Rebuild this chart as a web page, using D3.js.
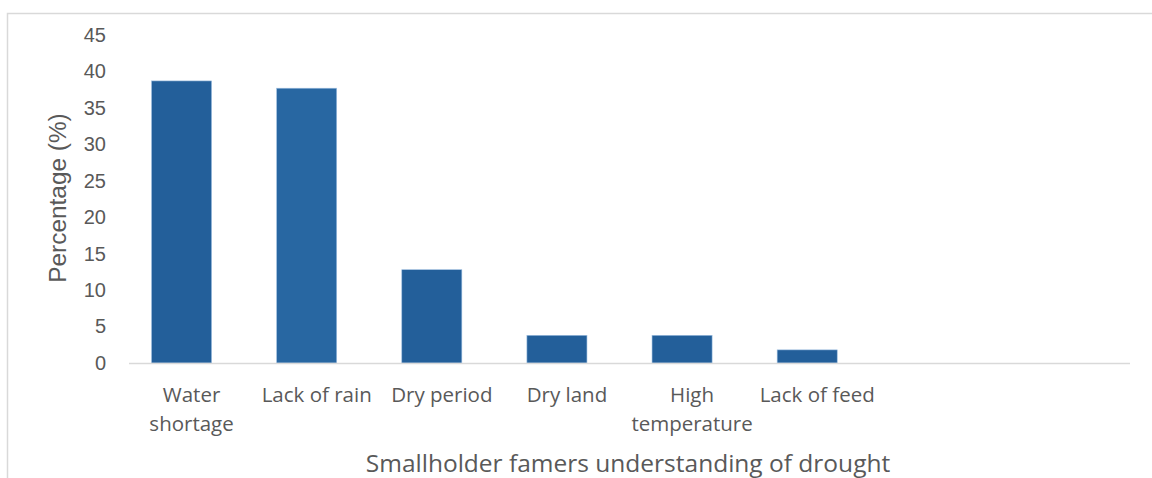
<!DOCTYPE html>
<html>
<head>
<meta charset="utf-8">
<script src="https://cdn.jsdelivr.net/npm/d3@7"></script>
<style>
    html, body { margin: 0; padding: 0; background: #ffffff; }
    svg { display: block; }
</style>
</head>
<body>
<svg id="chart"></svg>
<script>
// 数据
const categories = ["Water\nshortage", "Lack of rain", "Dry period", "Dry land", "High\ntemperature", "Lack of feed", "", " "];
const percentages = [38.7, 37.7, 12.8, 3.8, 3.8, 1.8, null, null];
const barColors = ["#235f9a", "#2867a2", "#235f9a", "#235f9a", "#235f9a", "#235f9a", "#235f9a", "#235f9a"];
const yTicks = [0, 5, 10, 15, 20, 25, 30, 35, 40, 45];
const yTitle = "Percentage (%)";
const xTitle = "Smallholder famers understanding of drought";

const width = 1152, height = 478;
const textColor = "#595959";
const lineColor = "#d9d9d9";

const svg = d3.select("#chart")
    .attr("width", width)
    .attr("height", height);

// 外框
svg.append("rect")
    .attr("x", 7.5)
    .attr("y", 13.5)
    .attr("width", width + 10)
    .attr("height", height + 10)
    .attr("fill", "none")
    .attr("stroke", lineColor)
    .attr("stroke-width", 1.5);

// 比例尺
const x = d3.scaleBand()
    .domain(categories)
    .range([129, 1130]);

const y = d3.scaleLinear()
    .domain([0, 45])
    .range([363, 35]);

const barWidth = x.bandwidth() * 0.48;
// 原图柱子比标签略微偏左
const barShift = -10;

// 柱子
svg.append("g")
    .selectAll("rect")
    .data(categories.map((c, i) => ({ c, v: percentages[i], color: barColors[i] })).filter(d => d.v != null))
    .enter()
    .append("rect")
    .attr("x", d => x(d.c) + (x.bandwidth() - barWidth) / 2 + barShift)
    .attr("y", d => y(d.v))
    .attr("width", barWidth)
    .attr("height", d => y(0) - y(d.v))
    .attr("fill", d => d.color)
    .attr("stroke", "#9fbfe0")
    .attr("stroke-width", 0.6);

// x轴线
svg.append("line")
    .attr("x1", x.range()[0])
    .attr("x2", x.range()[1])
    .attr("y1", y(0) + 0.5)
    .attr("y2", y(0) + 0.5)
    .attr("stroke", lineColor)
    .attr("stroke-width", 1.5);

// y轴刻度
const yAxis = svg.append("g")
    .attr("transform", "translate(106,0)")
    .call(d3.axisLeft(y).tickValues(yTicks).tickSize(0).tickPadding(0));
yAxis.select(".domain").remove();
yAxis.selectAll("text")
    .attr("fill", textColor)
    .style("font-family", "'Liberation Sans', Arial, sans-serif")
    .style("font-size", "20px");

// x轴标签
const xAxis = svg.append("g")
    .attr("transform", `translate(0,${y(0)})`)
    .call(d3.axisBottom(x).tickSize(0).tickFormat(""));
xAxis.select(".domain").remove();
xAxis.selectAll(".tick").each(function (d) {
    const lines = d.trim() === "" ? [] : d.split("\n");
    const t = d3.select(this).append("text")
        .attr("fill", textColor)
        .attr("text-anchor", "middle")
        .style("font-family", "'Open Sans', sans-serif")
        .style("font-size", "20.5px");
    lines.forEach((ln, i) => {
        t.append("tspan")
            .attr("x", 0)
            .attr("y", 39 + i * 29)
            .text(ln);
    });
});

// 轴标题
svg.append("text")
    .attr("transform", `translate(66,198) rotate(-90)`)
    .attr("text-anchor", "middle")
    .attr("fill", textColor)
    .style("font-family", "'Liberation Sans', Arial, sans-serif")
    .style("font-size", "24.4px")
    .text(yTitle);

svg.append("text")
    .attr("x", 628)
    .attr("y", 472)
    .attr("text-anchor", "middle")
    .attr("fill", textColor)
    .style("font-family", "'Open Sans', sans-serif")
    .style("font-size", "24.5px")
    .text(xTitle);
</script>
</body>
</html>
